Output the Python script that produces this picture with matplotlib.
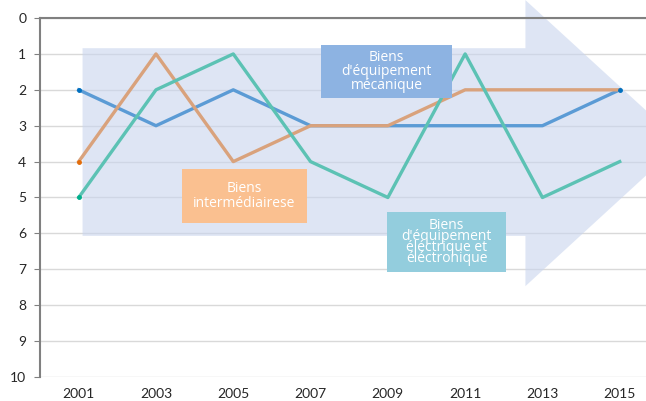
import matplotlib.pyplot as plt
from matplotlib.patches import Polygon, Rectangle

plt.rcParams['font.family'] = ['Lato', 'DejaVu Sans']

years = ['2001', '2003', '2005', '2007', '2009', '2011', '2013', '2015']
mecanique = [2, 3, 2, 3, 3, 3, 3, 2]
intermediaires = [4, 1, 4, 3, 3, 2, 2, 2]
electrique = [5, 2, 1, 4, 5, 1, 5, 4]

x = list(range(len(years)))

fig = plt.figure(figsize=(6.46, 4.01), dpi=100)
ax = fig.add_axes([0.062, 0.06, 0.938, 0.895])

# big background arrow
arrow = Polygon([(0.05, 0.84), (5.78, 0.84), (5.78, -0.5), (7.8, 3.48),
                 (5.78, 7.47), (5.78, 6.07), (0.05, 6.07)],
                closed=True, facecolor='#c9d5ee', alpha=0.6, edgecolor='none',
                zorder=2, clip_on=False)
ax.add_patch(arrow)

ax.plot(x, mecanique, color='#5b9bd5', lw=2.4, zorder=3)
ax.plot(x, intermediaires, color='#d9a27c', lw=2.4, zorder=3)
ax.plot(x, electrique, color='#5cc2b4', lw=2.4, zorder=3)
ax.plot(x[0], mecanique[0], 'o', color='#0070c0', ms=2.5, zorder=4)
ax.plot(x[-1], mecanique[-1], 'o', color='#0070c0', ms=2.5, zorder=4)
ax.plot(x[0], intermediaires[0], 'o', color='#e36c09', ms=2.5, zorder=4)
ax.plot(x[0], electrique[0], 'o', color='#00b08c', ms=2.5, zorder=4)

ax.set_xlim(-0.5, 7.34)
ax.set_ylim(10, 0)
ax.set_yticks(range(0, 11))
ax.set_xticks(x)
ax.set_xticklabels(years)
ax.yaxis.grid(True, color='#d9d9d9', lw=1, zorder=1)
ax.set_axisbelow(True)
for s in ['right', 'bottom']:
    ax.spines[s].set_visible(False)
ax.spines['left'].set_color('#808080')
ax.spines['left'].set_linewidth(1.5)
ax.spines['top'].set_color('#808080')
ax.spines['top'].set_linewidth(1.5)
ax.tick_params(axis='y', length=4, color='#808080', labelsize=10, labelcolor='#262626', pad=6)
ax.tick_params(axis='x', length=0, labelsize=10, labelcolor='#262626', pad=8)

def label_box(x0, y0, x1, y1, text, color, ls=1.0, fs=10):
    # pixel coords converted to axes-fraction
    ax0, ay0 = 40, 18
    w, h = 606, 359
    rx = (x0 - ax0) / w
    ry = 1 - (y1 - ay0) / h
    rw = (x1 - x0) / w
    rh = (y1 - y0) / h
    ax.add_patch(Rectangle((rx, ry), rw, rh, transform=ax.transAxes,
                           facecolor=color, edgecolor='none', zorder=5))
    ax.text(rx + rw / 2, ry + rh / 2, text, transform=ax.transAxes,
            ha='center', va='center', color='white', fontsize=fs,
            family=['Open Sans', 'DejaVu Sans'], linespacing=ls, zorder=6)

label_box(321, 45, 452, 98, "Biens\nd'équipement\nmécanique", '#8db3e2', ls=0.9)
label_box(182, 169, 307, 223, "Biens\nintermédiairese", '#fac090', ls=0.95)
label_box(387, 212, 506, 272, "Biens\nd'équipement\néléctrique et\néléctronique", '#93cddd', ls=0.65)

fig.savefig('out.png', dpi=100)
